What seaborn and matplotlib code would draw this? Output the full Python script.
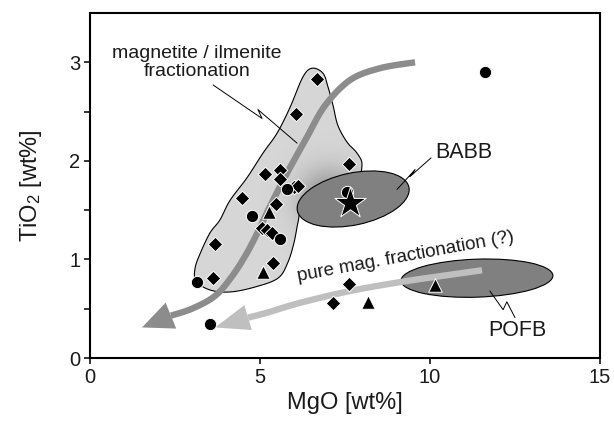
import numpy as np
import pandas as pd
import matplotlib
matplotlib.use("Agg")
import matplotlib.pyplot as plt
import seaborn as sns
from matplotlib.patches import Polygon, Ellipse
from matplotlib.transforms import ScaledTranslation

# ---- sample compositions (MgO, TiO2 in wt%) ----
diamond_mgo = [6.68, 6.06, 7.62, 5.15, 5.59, 5.59, 6.00, 6.12, 4.47, 5.47,
               5.06, 5.21, 5.35, 3.68, 3.62, 5.38, 7.62, 7.15]
diamond_tio2 = [2.83, 2.48, 1.97, 1.87, 1.91, 1.82, 1.73, 1.74, 1.62, 1.56,
                1.32, 1.30, 1.27, 1.16, 0.81, 0.96, 0.75, 0.56]

circle_mgo = [5.79, 4.76, 5.59, 3.15, 3.53, 7.56, 11.62]
circle_tio2 = [1.71, 1.44, 1.21, 0.77, 0.35, 1.68, 2.90]

triangle_mgo = [5.26, 5.09, 8.18, 10.15]
triangle_tio2 = [1.48, 0.87, 0.57, 0.74]

star_mgo = [7.65]
star_tio2 = [1.57]

x_ticks = [0, 5, 10, 15]
y_ticks = [0, 1, 2, 3]

# ---- style ----
sns.set_theme(style="white")
plt.rcParams["font.family"] = ["Liberation Sans", "DejaVu Sans"]
plt.rcParams["mathtext.fontset"] = "custom"
plt.rcParams["mathtext.rm"] = "Liberation Sans"
plt.rcParams["mathtext.it"] = "Liberation Sans:italic"

fig = plt.figure(figsize=(6.14, 4.32), dpi=100)
ax = fig.add_axes([90 / 614, 1 - 358 / 432, 510 / 614, 345 / 432])
ax.set_xlim(0, 15)
ax.set_ylim(0, 3.5)


def catmull(pts, n=10, closed=False):
    """Smooth a polyline through the given control points."""
    p = np.asarray(pts, float)
    m = len(p)
    out = []
    segs = m if closed else m - 1
    for i in range(segs):
        if closed:
            p0, p1, p2, p3 = p[(i - 1) % m], p[i], p[(i + 1) % m], p[(i + 2) % m]
        else:
            p0 = p[max(i - 1, 0)]
            p1, p2 = p[i], p[i + 1]
            p3 = p[min(i + 2, m - 1)]
        for t in np.linspace(0, 1, n, endpoint=False):
            t2, t3 = t * t, t * t * t
            out.append(0.5 * ((2 * p1) + (-p0 + p2) * t
                              + (2 * p0 - 5 * p1 + 4 * p2 - p3) * t2
                              + (-p0 + 3 * p1 - 3 * p2 + p3) * t3))
    if not closed:
        out.append(p[-1])
    return np.array(out)


def to_px(xy):
    return ax.transData.transform(np.asarray(xy, float))


def to_data(pxy):
    return ax.transData.inverted().transform(np.asarray(pxy, float))


def curved_arrow(body, tip, color, lw_pt, head_w_px, z):
    pts = catmull(body, n=12)
    ax.plot(pts[:, 0], pts[:, 1], color=color, lw=lw_pt,
            solid_capstyle="butt", zorder=z)
    base = to_px(body[-1])
    tp = to_px(tip)
    d = tp - base
    d = d / np.hypot(*d)
    nrm = np.array([-d[1], d[0]])
    tri = np.array([tp, base + nrm * head_w_px / 2, base - nrm * head_w_px / 2])
    ax.add_patch(Polygon(to_data(tri), closed=True, facecolor=color,
                         edgecolor="none", zorder=z))


def ellipse(center, w_px, h_px, angle, z):
    tr = fig.dpi_scale_trans + ScaledTranslation(center[0], center[1], ax.transData)
    e = Ellipse((0, 0), w_px / 100, h_px / 100, angle=angle, transform=tr,
                facecolor="#808080", edgecolor="black", lw=0.8, zorder=z)
    ax.add_patch(e)


# ---- magnetite / ilmenite fractionation field ----
field = [(6.53, 2.94), (6.85, 2.89), (7.00, 2.75), (7.15, 2.56), (7.29, 2.36),
         (7.56, 2.19), (7.85, 2.08), (8.00, 1.96), (7.79, 1.79), (6.76, 1.63),
         (6.24, 1.52), (6.12, 1.38), (6.00, 1.17), (5.82, 0.97), (5.53, 0.81),
         (4.85, 0.72), (4.12, 0.67), (3.53, 0.69), (3.12, 0.78), (3.09, 0.91),
         (3.24, 1.06), (3.53, 1.27), (3.82, 1.40), (4.12, 1.60), (4.62, 1.83),
         (5.09, 2.08), (5.50, 2.28), (5.88, 2.54), (6.26, 2.85)]
field_pts = catmull(field, n=8, closed=True)
field_fill = Polygon(field_pts, closed=True, facecolor="#d6d6d6",
                     edgecolor="none", zorder=1)
ax.add_patch(field_fill)

# darker halo where the field joins the BABB ellipse
gx = np.linspace(4.0, 9.0, 300)
gy = np.linspace(0.9, 2.5, 200)
GX, GY = np.meshgrid(gx, gy)
sx = (to_px((1, 0)) - to_px((0, 0)))[0]
sy = (to_px((0, 1)) - to_px((0, 0)))[1]
halo_c = (7.05, 1.60)
dist = np.hypot((GX - halo_c[0]) * sx, (GY - halo_c[1]) * sy)
inten = np.exp(-(dist / 30.0) ** 2)
rgba = np.zeros(GX.shape + (4,))
rgba[..., :3] = 0.50
rgba[..., 3] = 0.85 * inten
im = ax.imshow(rgba, extent=(gx[0], gx[-1], gy[0], gy[-1]), origin="lower",
               aspect="auto", zorder=1.5, interpolation="bilinear")
im.set_clip_path(field_fill)

ax.add_patch(Polygon(field_pts, closed=True, facecolor="none",
                     edgecolor="black", lw=0.8, zorder=2))

# ---- fractionation trend arrows ----
mag_body = [(9.56, 3.00), (8.53, 2.94), (7.65, 2.82), (6.91, 2.56), (6.38, 2.24),
            (5.88, 1.93), (5.53, 1.70), (5.24, 1.50), (4.94, 1.28), (4.59, 1.05),
            (4.18, 0.83), (3.68, 0.63), (3.00, 0.50), (2.38, 0.43)]
curved_arrow(mag_body, (1.53, 0.31), "#8c8c8c", 4.6, 28, 2.5)

# ---- end-member fields ----
ellipse((7.74, 1.613), 114, 52, 12, 3)
ellipse((11.38, 0.81), 152, 38, 2, 3)

pure_body = [(11.53, 0.89), (10.09, 0.82), (9.12, 0.77), (7.65, 0.68),
             (6.18, 0.56), (5.21, 0.46), (4.65, 0.41)]
curved_arrow(pure_body, (3.68, 0.31), "#bfbfbf", 4.6, 26, 3.5)

# ---- zig-zag leader lines ----
leaders = [
    [(3.62, 2.77), (5.06, 2.43), (4.94, 2.52), (6.09, 2.18)],
    [(10.03, 2.03), (9.41, 1.84), (9.56, 1.91), (9.03, 1.71)],
    [(11.76, 0.68), (12.15, 0.49), (12.26, 0.57), (12.50, 0.41)],
]
for ld in leaders:
    ld = np.array(ld)
    ax.plot(ld[:, 0], ld[:, 1], color="black", lw=0.7, zorder=4)

# ---- samples ----
df_d = pd.DataFrame({"MgO": diamond_mgo, "TiO2": diamond_tio2})
df_c = pd.DataFrame({"MgO": circle_mgo, "TiO2": circle_tio2})
df_t = pd.DataFrame({"MgO": triangle_mgo, "TiO2": triangle_tio2})
df_s = pd.DataFrame({"MgO": star_mgo, "TiO2": star_tio2})

common = dict(color="black", edgecolor="white", linewidth=0.7, ax=ax, legend=False)
sns.scatterplot(data=df_d, x="MgO", y="TiO2", marker="D", s=55, zorder=5, **common)
sns.scatterplot(data=df_c, x="MgO", y="TiO2", marker="o", s=78, zorder=5, **common)
sns.scatterplot(data=df_t, x="MgO", y="TiO2", marker="^", s=95, zorder=5, **common)
sns.scatterplot(data=df_s, x="MgO", y="TiO2", marker="*", s=560, zorder=6, **common)

# ---- labels ----
tc = "#1a1a1a"
ax.text(3.15, 3.0, "magnetite / ilmenite\nfractionation", ha="center",
        va="center", fontsize=14, linespacing=1.12, color=tc, zorder=7)
ax.text(11.0, 2.08, "BABB", ha="center", va="center", fontsize=15.5,
        color=tc, zorder=7)
ax.text(12.56, 0.28, "POFB", ha="center", va="center", fontsize=15.5,
        color=tc, zorder=7)
ax.text(9.29, 1.03, "pure mag. fractionation (?)", ha="center", va="center",
        rotation=10.4, rotation_mode="anchor", fontsize=13.5, color=tc, zorder=7)

# ---- axes ----
ax.set_xticks(x_ticks)
ax.set_yticks(y_ticks)
ax.set_yticks([0.5, 1.5, 2.5], minor=True)
ax.tick_params(which="both", direction="out", length=4, width=1.1,
               color="black", left=True, bottom=True, labelsize=14.5,
               labelcolor=tc, pad=3)
for sp in ax.spines.values():
    sp.set_color("black")
    sp.set_linewidth(1.5)
ax.set_xlabel("MgO [wt%]", fontsize=17, color=tc, labelpad=4)
ax.set_ylabel(r"TiO$_\mathregular{2}$ [wt%]", fontsize=17, color=tc, labelpad=18)
ax.set_xlim(0, 15)
ax.set_ylim(0, 3.5)

fig.savefig("out.png", dpi=100)
